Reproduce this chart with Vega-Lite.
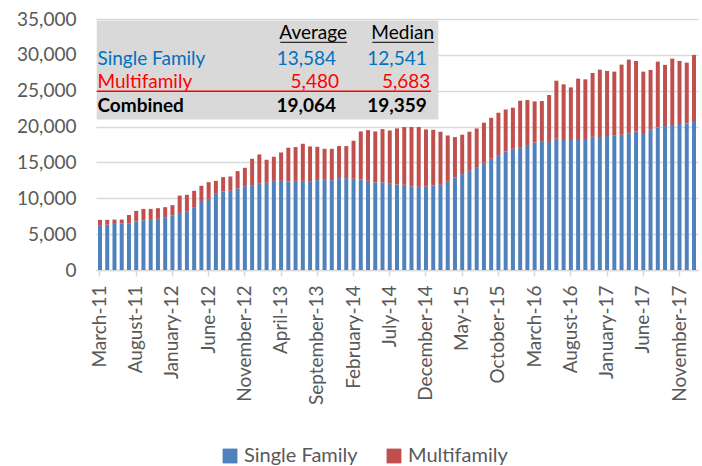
{
  "$schema": "https://vega.github.io/schema/vega-lite/v6.json",
  "width": 602,
  "height": 251,
  "autosize": {"type": "none"},
  "padding": {"left": 96, "top": 19, "right": 4, "bottom": 196},
  "background": "white",
  "config": {"view": {"stroke": null}, "font": "Lato"},
  "layer": [
    {
      "data": {"values": [
        {"month": "March-11", "Single Family": 6250, "Multifamily": 740},
        {"month": "April-11", "Single Family": 6330, "Multifamily": 660},
        {"month": "May-11", "Single Family": 6430, "Multifamily": 600},
        {"month": "June-11", "Single Family": 6470, "Multifamily": 560},
        {"month": "July-11", "Single Family": 6520, "Multifamily": 1160},
        {"month": "August-11", "Single Family": 6750, "Multifamily": 1490},
        {"month": "September-11", "Single Family": 6940, "Multifamily": 1580},
        {"month": "October-11", "Single Family": 6990, "Multifamily": 1530},
        {"month": "November-11", "Single Family": 7130, "Multifamily": 1490},
        {"month": "December-11", "Single Family": 7360, "Multifamily": 1400},
        {"month": "January-12", "Single Family": 7590, "Multifamily": 1450},
        {"month": "February-12", "Single Family": 7960, "Multifamily": 2420},
        {"month": "March-12", "Single Family": 8200, "Multifamily": 2280},
        {"month": "April-12", "Single Family": 8760, "Multifamily": 2280},
        {"month": "May-12", "Single Family": 9500, "Multifamily": 2240},
        {"month": "June-12", "Single Family": 9920, "Multifamily": 2330},
        {"month": "July-12", "Single Family": 10620, "Multifamily": 1810},
        {"month": "August-12", "Single Family": 10940, "Multifamily": 2010},
        {"month": "September-12", "Single Family": 11040, "Multifamily": 2000},
        {"month": "October-12", "Single Family": 11360, "Multifamily": 2430},
        {"month": "November-12", "Single Family": 11690, "Multifamily": 2560},
        {"month": "December-12", "Single Family": 11830, "Multifamily": 3680},
        {"month": "January-13", "Single Family": 12110, "Multifamily": 4000},
        {"month": "February-13", "Single Family": 12160, "Multifamily": 3210},
        {"month": "March-13", "Single Family": 12430, "Multifamily": 3360},
        {"month": "April-13", "Single Family": 12430, "Multifamily": 3960},
        {"month": "May-13", "Single Family": 12340, "Multifamily": 4710},
        {"month": "June-13", "Single Family": 12430, "Multifamily": 4710},
        {"month": "July-13", "Single Family": 12430, "Multifamily": 5170},
        {"month": "August-13", "Single Family": 12390, "Multifamily": 4840},
        {"month": "September-13", "Single Family": 12530, "Multifamily": 4650},
        {"month": "October-13", "Single Family": 12670, "Multifamily": 4230},
        {"month": "November-13", "Single Family": 12530, "Multifamily": 4370},
        {"month": "December-13", "Single Family": 12810, "Multifamily": 4470},
        {"month": "January-14", "Single Family": 12810, "Multifamily": 4470},
        {"month": "February-14", "Single Family": 12710, "Multifamily": 5310},
        {"month": "March-14", "Single Family": 12620, "Multifamily": 6700},
        {"month": "April-14", "Single Family": 12430, "Multifamily": 7080},
        {"month": "May-14", "Single Family": 12200, "Multifamily": 7120},
        {"month": "June-14", "Single Family": 12200, "Multifamily": 7450},
        {"month": "July-14", "Single Family": 12110, "Multifamily": 7350},
        {"month": "August-14", "Single Family": 11920, "Multifamily": 7820},
        {"month": "September-14", "Single Family": 11880, "Multifamily": 8050},
        {"month": "October-14", "Single Family": 11640, "Multifamily": 8290},
        {"month": "November-14", "Single Family": 11600, "Multifamily": 8330},
        {"month": "December-14", "Single Family": 11640, "Multifamily": 7960},
        {"month": "January-15", "Single Family": 11780, "Multifamily": 7780},
        {"month": "February-15", "Single Family": 11880, "Multifamily": 7400},
        {"month": "March-15", "Single Family": 12390, "Multifamily": 6370},
        {"month": "April-15", "Single Family": 12900, "Multifamily": 5630},
        {"month": "May-15", "Single Family": 13370, "Multifamily": 5490},
        {"month": "June-15", "Single Family": 13830, "Multifamily": 5450},
        {"month": "July-15", "Single Family": 14350, "Multifamily": 5390},
        {"month": "August-15", "Single Family": 14950, "Multifamily": 5590},
        {"month": "September-15", "Single Family": 15510, "Multifamily": 5720},
        {"month": "October-15", "Single Family": 16020, "Multifamily": 5910},
        {"month": "November-15", "Single Family": 16530, "Multifamily": 5860},
        {"month": "December-15", "Single Family": 16900, "Multifamily": 5730},
        {"month": "January-16", "Single Family": 17140, "Multifamily": 6470},
        {"month": "February-16", "Single Family": 17420, "Multifamily": 6280},
        {"month": "March-16", "Single Family": 17780, "Multifamily": 5730},
        {"month": "April-16", "Single Family": 17880, "Multifamily": 5680},
        {"month": "May-16", "Single Family": 17980, "Multifamily": 6420},
        {"month": "June-16", "Single Family": 18300, "Multifamily": 8100},
        {"month": "July-16", "Single Family": 18120, "Multifamily": 7770},
        {"month": "August-16", "Single Family": 18260, "Multifamily": 7210},
        {"month": "September-16", "Single Family": 18260, "Multifamily": 8420},
        {"month": "October-16", "Single Family": 18260, "Multifamily": 8330},
        {"month": "November-16", "Single Family": 18580, "Multifamily": 8900},
        {"month": "December-16", "Single Family": 18540, "Multifamily": 9400},
        {"month": "January-17", "Single Family": 18680, "Multifamily": 9080},
        {"month": "February-17", "Single Family": 18720, "Multifamily": 8940},
        {"month": "March-17", "Single Family": 18860, "Multifamily": 9780},
        {"month": "April-17", "Single Family": 19000, "Multifamily": 10340},
        {"month": "May-17", "Single Family": 19320, "Multifamily": 9830},
        {"month": "June-17", "Single Family": 19100, "Multifamily": 8560},
        {"month": "July-17", "Single Family": 19560, "Multifamily": 8340},
        {"month": "August-17", "Single Family": 19880, "Multifamily": 9180},
        {"month": "September-17", "Single Family": 20070, "Multifamily": 8530},
        {"month": "October-17", "Single Family": 20210, "Multifamily": 9270},
        {"month": "November-17", "Single Family": 20350, "Multifamily": 8800},
        {"month": "December-17", "Single Family": 20440, "Multifamily": 8480},
        {"month": "January-18", "Single Family": 20770, "Multifamily": 9220}
      ]},
      "transform": [{"fold": ["Single Family", "Multifamily"], "as": ["series", "value"]}],
      "mark": {"type": "bar"},
      "encoding": {
        "x": {
          "field": "month", "type": "ordinal", "sort": null,
          "scale": {"paddingInner": 0.45, "paddingOuter": 0.275},
          "axis": {
            "title": null,
            "values": ["March-11", "August-11", "January-12", "June-12", "November-12", "April-13", "September-13", "February-14", "July-14", "December-14", "May-15", "October-15", "March-16", "August-16", "January-17", "June-17", "November-17"],
            "labelAngle": -90, "labelAlign": "right", "labelBaseline": "middle",
            "labelFontSize": 19, "labelColor": "#595959", "labelPadding": 9,
            "tickColor": "#d9d9d9", "tickSize": 6, "tickWidth": 1.5,
            "domainColor": "#d9d9d9", "domainWidth": 1.5, "grid": false
          }
        },
        "y": {
          "field": "value", "type": "quantitative", "stack": "zero",
          "scale": {"domain": [0, 35000], "nice": false},
          "axis": {
            "title": null, "values": [0, 5000, 10000, 15000, 20000, 25000, 30000, 35000],
            "format": ",.0f", "labelFontSize": 19, "labelColor": "#595959", "labelPadding": 20,
            "tickSize": 0, "domain": false, "grid": true, "gridColor": "#d9d9d9", "gridWidth": 1.5
          }
        },
        "color": {
          "field": "series", "type": "nominal",
          "scale": {"domain": ["Single Family", "Multifamily"], "range": ["#4F81BD", "#C0504D"]},
          "legend": {
            "title": null, "orient": "none", "direction": "horizontal",
            "legendX": 124, "legendY": 427, "symbolType": "square", "symbolSize": 220,
            "symbolStrokeWidth": 0, "labelFontSize": 20, "labelColor": "#595959",
            "columnPadding": 26, "labelOffset": 4, "padding": 0
          }
        },
        "order": {"field": "series", "sort": "descending"}
      }
    },
    {
      "data": {"values": [{}]},
      "layer": [
        {
          "mark": {"type": "rect", "color": "#d9d9d9"},
          "encoding": {
            "x": {"datum": 0.1, "type": "quantitative", "scale": {"domain": [0, 83], "nice": false, "zero": false}, "axis": null},
            "x2": {"datum": 47.2},
            "y": {"datum": 34800, "type": "quantitative", "scale": {"domain": [0, 35000], "nice": false}, "axis": null},
            "y2": {"datum": 21000}
          }
        },
        {
          "mark": {"type": "text", "text": "Average", "align": "right", "baseline": "alphabetic", "fontSize": 19, "color": "#000000"},
          "encoding": {"x": {"datum": 34.6, "type": "quantitative"}, "y": {"datum": 32230, "type": "quantitative"}}
        },
        {
          "mark": {"type": "text", "text": "Median", "align": "right", "baseline": "alphabetic", "fontSize": 19, "color": "#000000"},
          "encoding": {"x": {"datum": 46.6, "type": "quantitative"}, "y": {"datum": 32230, "type": "quantitative"}}
        },
        {
          "mark": {"type": "rule", "color": "#000000", "strokeWidth": 1},
          "encoding": {"x": {"datum": 25.4, "type": "quantitative"}, "x2": {"datum": 34.6}, "y": {"datum": 31750, "type": "quantitative"}}
        },
        {
          "mark": {"type": "rule", "color": "#000000", "strokeWidth": 1},
          "encoding": {"x": {"datum": 38.1, "type": "quantitative"}, "x2": {"datum": 46.6}, "y": {"datum": 31750, "type": "quantitative"}}
        },
        {
          "mark": {"type": "text", "text": "Single Family", "align": "left", "baseline": "alphabetic", "fontSize": 19, "color": "#0070C0"},
          "encoding": {"x": {"datum": 0.2, "type": "quantitative"}, "y": {"datum": 28640, "type": "quantitative"}}
        },
        {
          "mark": {"type": "text", "text": "13,584", "align": "right", "baseline": "alphabetic", "fontSize": 19, "color": "#0070C0"},
          "encoding": {"x": {"datum": 33.1, "type": "quantitative"}, "y": {"datum": 28640, "type": "quantitative"}}
        },
        {
          "mark": {"type": "text", "text": "12,541", "align": "right", "baseline": "alphabetic", "fontSize": 19, "color": "#0070C0"},
          "encoding": {"x": {"datum": 45.6, "type": "quantitative"}, "y": {"datum": 28640, "type": "quantitative"}}
        },
        {
          "mark": {"type": "text", "text": "Multifamily", "align": "left", "baseline": "alphabetic", "fontSize": 19, "color": "#FF0000"},
          "encoding": {"x": {"datum": 0.2, "type": "quantitative"}, "y": {"datum": 25380, "type": "quantitative"}}
        },
        {
          "mark": {"type": "text", "text": "5,480", "align": "right", "baseline": "alphabetic", "fontSize": 19, "color": "#FF0000"},
          "encoding": {"x": {"datum": 33.5, "type": "quantitative"}, "y": {"datum": 25380, "type": "quantitative"}}
        },
        {
          "mark": {"type": "text", "text": "5,683", "align": "right", "baseline": "alphabetic", "fontSize": 19, "color": "#FF0000"},
          "encoding": {"x": {"datum": 46.1, "type": "quantitative"}, "y": {"datum": 25380, "type": "quantitative"}}
        },
        {
          "mark": {"type": "rule", "color": "#FF0000", "strokeWidth": 1.5},
          "encoding": {"x": {"datum": 0.1, "type": "quantitative"}, "x2": {"datum": 46.2}, "y": {"datum": 24910, "type": "quantitative"}}
        },
        {
          "mark": {"type": "text", "text": "Combined", "align": "left", "baseline": "alphabetic", "fontSize": 19, "fontWeight": "bold", "color": "#000000"},
          "encoding": {"x": {"datum": 0.2, "type": "quantitative"}, "y": {"datum": 22030, "type": "quantitative"}}
        },
        {
          "mark": {"type": "text", "text": "19,064", "align": "right", "baseline": "alphabetic", "fontSize": 19, "fontWeight": "bold", "color": "#000000"},
          "encoding": {"x": {"datum": 33.1, "type": "quantitative"}, "y": {"datum": 22030, "type": "quantitative"}}
        },
        {
          "mark": {"type": "text", "text": "19,359", "align": "right", "baseline": "alphabetic", "fontSize": 19, "fontWeight": "bold", "color": "#000000"},
          "encoding": {"x": {"datum": 45.6, "type": "quantitative"}, "y": {"datum": 22030, "type": "quantitative"}}
        }
      ]
    }
  ],
  "resolve": {"scale": {"x": "independent", "y": "independent"}}
}
